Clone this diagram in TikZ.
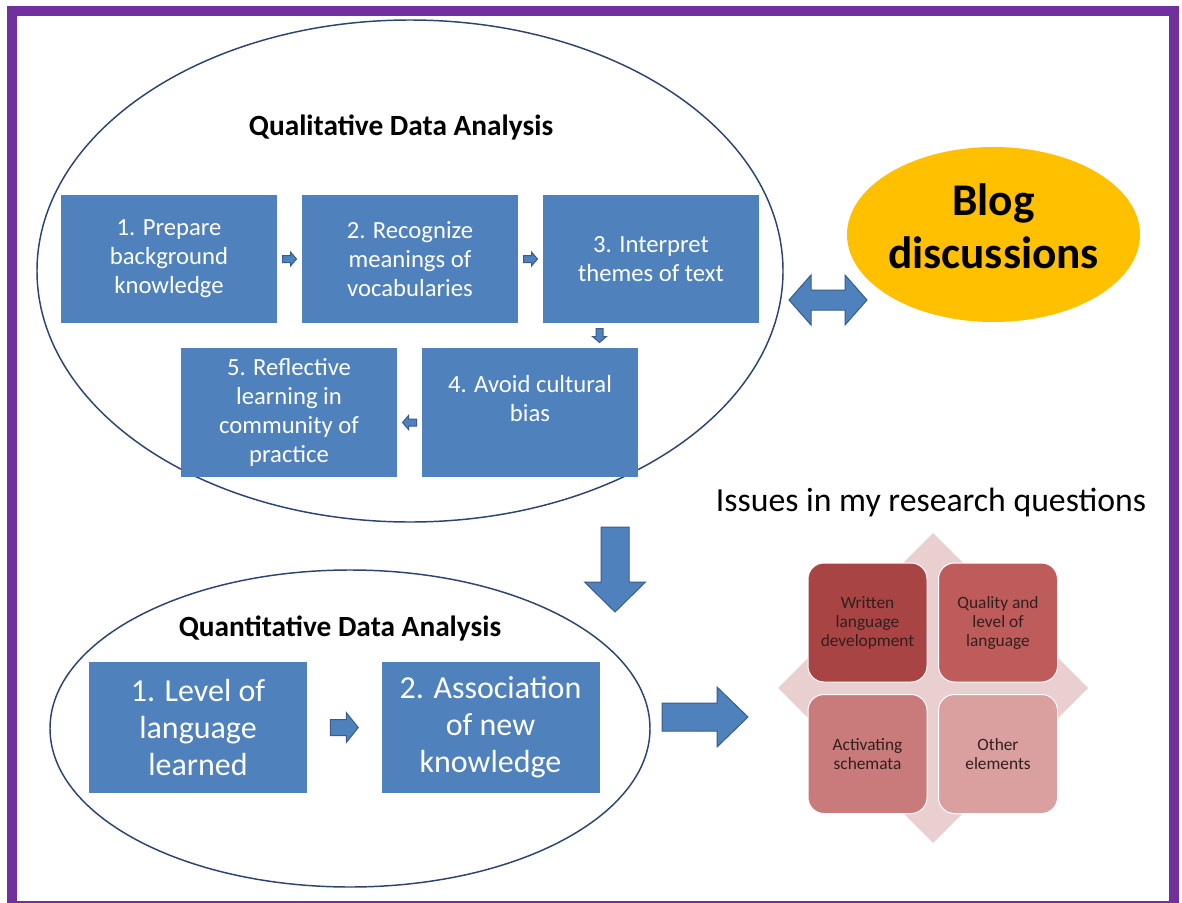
\documentclass[tikz,border=0pt]{standalone}
\usepackage{fontspec}
\setmainfont{Carlito}
\usetikzlibrary{calc}
\usetikzlibrary{shapes}

\definecolor{boxblue}{RGB}{79,129,189}
\definecolor{arrowline}{RGB}{56,93,138}
\definecolor{ovalline}{RGB}{44,68,112}
\definecolor{framepurple}{RGB}{112,48,160}
\definecolor{blogyellow}{RGB}{255,192,0}
\definecolor{quadW}{RGB}{168,68,68}
\definecolor{quadQ}{RGB}{190,92,92}
\definecolor{quadA}{RGB}{201,123,123}
\definecolor{quadO}{RGB}{218,160,160}
\definecolor{quadbg}{RGB}{233,207,207}
\definecolor{quadtext}{RGB}{50,30,30}

\tikzset{
  stepbox/.style={fill=boxblue, text=white, align=center, inner sep=0pt,
    minimum width=162pt, minimum height=96pt, font=\fontsize{18.5}{21.75}\selectfont},
  quantbox/.style={stepbox, minimum width=163.5pt, minimum height=98.25pt,
    font=\fontsize{24}{27.75}\selectfont},
  quadbox/.style={draw=white, line width=0.75pt, rounded corners=12pt, align=center,
    inner sep=0pt, minimum width=89.25pt, minimum height=89.25pt, text=quadtext,
    font=\fontsize{13}{14.25}\selectfont},
  arrowfill/.style={fill=boxblue, draw=arrowline, line width=0.75pt},
  pics/blockarrow/.style args={#1/#2/#3/#4}{code={%
    \filldraw[arrowfill] (-#1/2,-#2/2) -- (#1/2-#4,-#2/2) -- (#1/2-#4,-#3/2) -- (#1/2,0)
      -- (#1/2-#4,#3/2) -- (#1/2-#4,#2/2) -- (-#1/2,#2/2) -- cycle;
  }},
  pics/twowayarrow/.style args={#1/#2/#3/#4}{code={%
    \filldraw[arrowfill] (-#1/2,0) -- (-#1/2+#4,-#3/2) -- (-#1/2+#4,-#2/2) -- (#1/2-#4,-#2/2)
      -- (#1/2-#4,-#3/2) -- (#1/2,0) -- (#1/2-#4,#3/2) -- (#1/2-#4,#2/2)
      -- (-#1/2+#4,#2/2) -- (-#1/2+#4,#3/2) -- cycle;
  }},
}

\begin{document}
\begin{tikzpicture}[x=0.75pt,y=0.75pt,yscale=-1,xscale=1]
\useasboundingbox (0,0) rectangle (1182,903);
\fill[white] (0,0) rectangle (1182,903);

%Shape: Ellipse (qualitative)
\draw [color=ovalline, line width=1.1pt] (410,271) ellipse [x radius=373, y radius=251];
%Shape: Ellipse (quantitative)
\draw [color=ovalline, line width=1.1pt] (350,728.5) ellipse [x radius=300, y radius=158.5];

% Text Node
\draw (401,127) node (qualtitle) [font=\bfseries\fontsize{22}{26}\selectfont] {Qualitative Data Analysis};
% Text Node
\draw (340,628) node (quanttitle) [font=\bfseries\fontsize{22}{26}\selectfont] {Quantitative Data Analysis};

%Shape: Rectangle
\draw (169,259) node (box1) [stepbox] {1. Prepare\\background\\knowledge};
\draw (410,259) node (box2) [stepbox] {2. Recognize\\meanings of\\vocabularies};
\draw (651,259) node (box3) [stepbox] {3. Interpret\\themes of text};
\draw (530,412.5) node (box4) [stepbox, minimum height=96.75pt] {4. Avoid cultural\\bias\\\mbox{}};
\draw (289,412.5) node (box5) [stepbox, minimum height=96.75pt] {5. Reflective\\learning in\\community of\\practice};

%Small arrows
\pic at ($(box1.east)!0.5!(box2.west)$) {blockarrow=14/7/14/6};
\pic at ($(box2.east)!0.5!(box3.west)$) {blockarrow=14/7/14/6};
\pic [rotate=-90] at ($(box3.south)!0.5!(box4.north)+(9,0)$) {blockarrow=14/7/14/6};
\pic [rotate=180] at ($(box4.west)!0.5!(box5.east)+(0,10)$) {blockarrow=14/7/14/6};

%Shape: Rectangle
\draw (198,727.5) node (quant1) [quantbox] {1. Level of\\language\\learned};
\draw (490.5,727.5) node (quant2) [quantbox] {2. Association\\of new\\knowledge};
\pic at ($(quant1.east)!0.5!(quant2.west)$) {blockarrow=28/16/30/12};

%Shape: Ellipse (blog)
\draw (993.5,234.5) node (blog) [ellipse, fill=blogyellow, inner sep=0pt, minimum width=219.75pt, minimum height=131.25pt] {};
% Text Node
\draw (993.5,226.5) node (blogtext) [align=center, font=\bfseries\fontsize{34}{39.75}\selectfont] {Blog\\discussions};

%Big arrows
\pic at (828,300) {twowayarrow=78/20/50/22};
\pic [rotate=-90] at (615,569.5) {blockarrow=85/28/61/30};
\pic at (705,717) {blockarrow=86/28/60/31};

% Text Node
\draw (931,503) node (issues) [font=\fontsize{25.3}{30}\selectfont] {Issues in my research questions};

%Shape: Diamond
\fill [color=quadbg] (933,533) -- (1088,688) -- (933,843) -- (778,688) -- cycle;
\draw (867.5,622.5) node (written) [quadbox, fill=quadW] {Written\\language\\development};
\draw (998,622.5) node (quality) [quadbox, fill=quadQ] {Quality and\\level of\\language};
\draw (867.5,754) node (activating) [quadbox, fill=quadA] {Activating\\schemata};
\draw (998,754) node (other) [quadbox, fill=quadO] {Other\\elements};

%Shape: Rectangle (frame)
\draw [color=framepurple, line width=7.5pt] (12,11) rectangle (1174,906);

\end{tikzpicture}
\end{document}
